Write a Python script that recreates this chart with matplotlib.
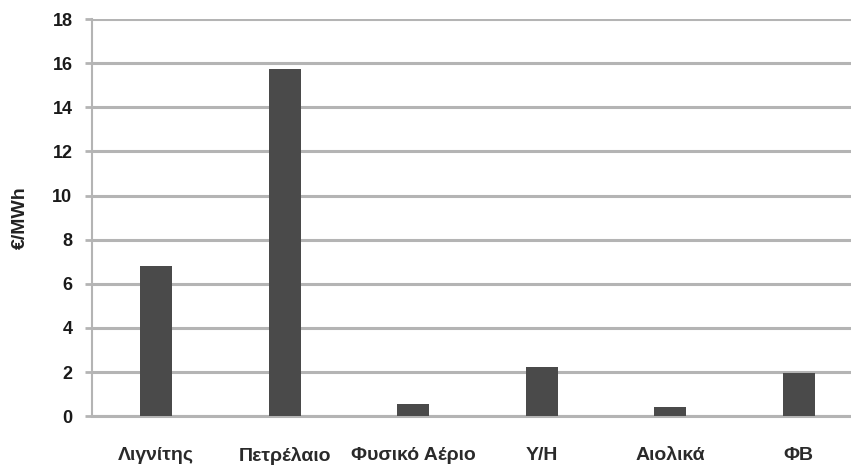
import matplotlib.pyplot as plt
import numpy as np

# cost per energy source
sources = ['Λιγνίτης', 'Πετρέλαιο', 'Φυσικό Αέριο', 'Υ/Η', 'Αιολικά', 'ΦΒ']
cost = [6.8, 15.75, 0.55, 2.22, 0.4, 1.95]
yticks = [0, 2, 4, 6, 8, 10, 12, 14, 16, 18]

plt.rcParams['font.family'] = ['Liberation Sans', 'DejaVu Sans']

fig = plt.figure(figsize=(8.51, 4.66), dpi=100)
ax = fig.add_axes([0.108, 0.107, 0.906, 0.852])

x = np.arange(len(sources))
ax.bar(x, cost, width=0.25, color='#4a4a4a', zorder=3)

ax.set_xlim(-0.5, len(sources) - 0.5)
ax.set_ylim(0, 18)
ax.set_yticks(yticks)
ax.yaxis.grid(True, color='#b4b4b4', linewidth=2.2, zorder=0)
ax.set_axisbelow(True)

ax.set_xticks(x)
ax.set_xticklabels(sources, fontsize=14, fontweight='bold', color='#2a2a2a')
ax.tick_params(axis='x', length=0, pad=22)
ax.tick_params(axis='y', length=5, width=2, color='#b4b4b4', pad=9,
               labelsize=13, labelcolor='#1a1a1a')
for lbl in ax.get_yticklabels():
    lbl.set_fontweight('bold')

for s in ['top', 'right']:
    ax.spines[s].set_visible(False)
ax.spines['left'].set_color('#b4b4b4')
ax.spines['left'].set_linewidth(1.5)
ax.spines['bottom'].set_color('#b4b4b4')
ax.spines['bottom'].set_linewidth(2.2)

ax.set_ylabel('€/MWh', fontsize=14, fontweight='bold', color='#222222', labelpad=17)

fig.savefig('out.png', dpi=100)
